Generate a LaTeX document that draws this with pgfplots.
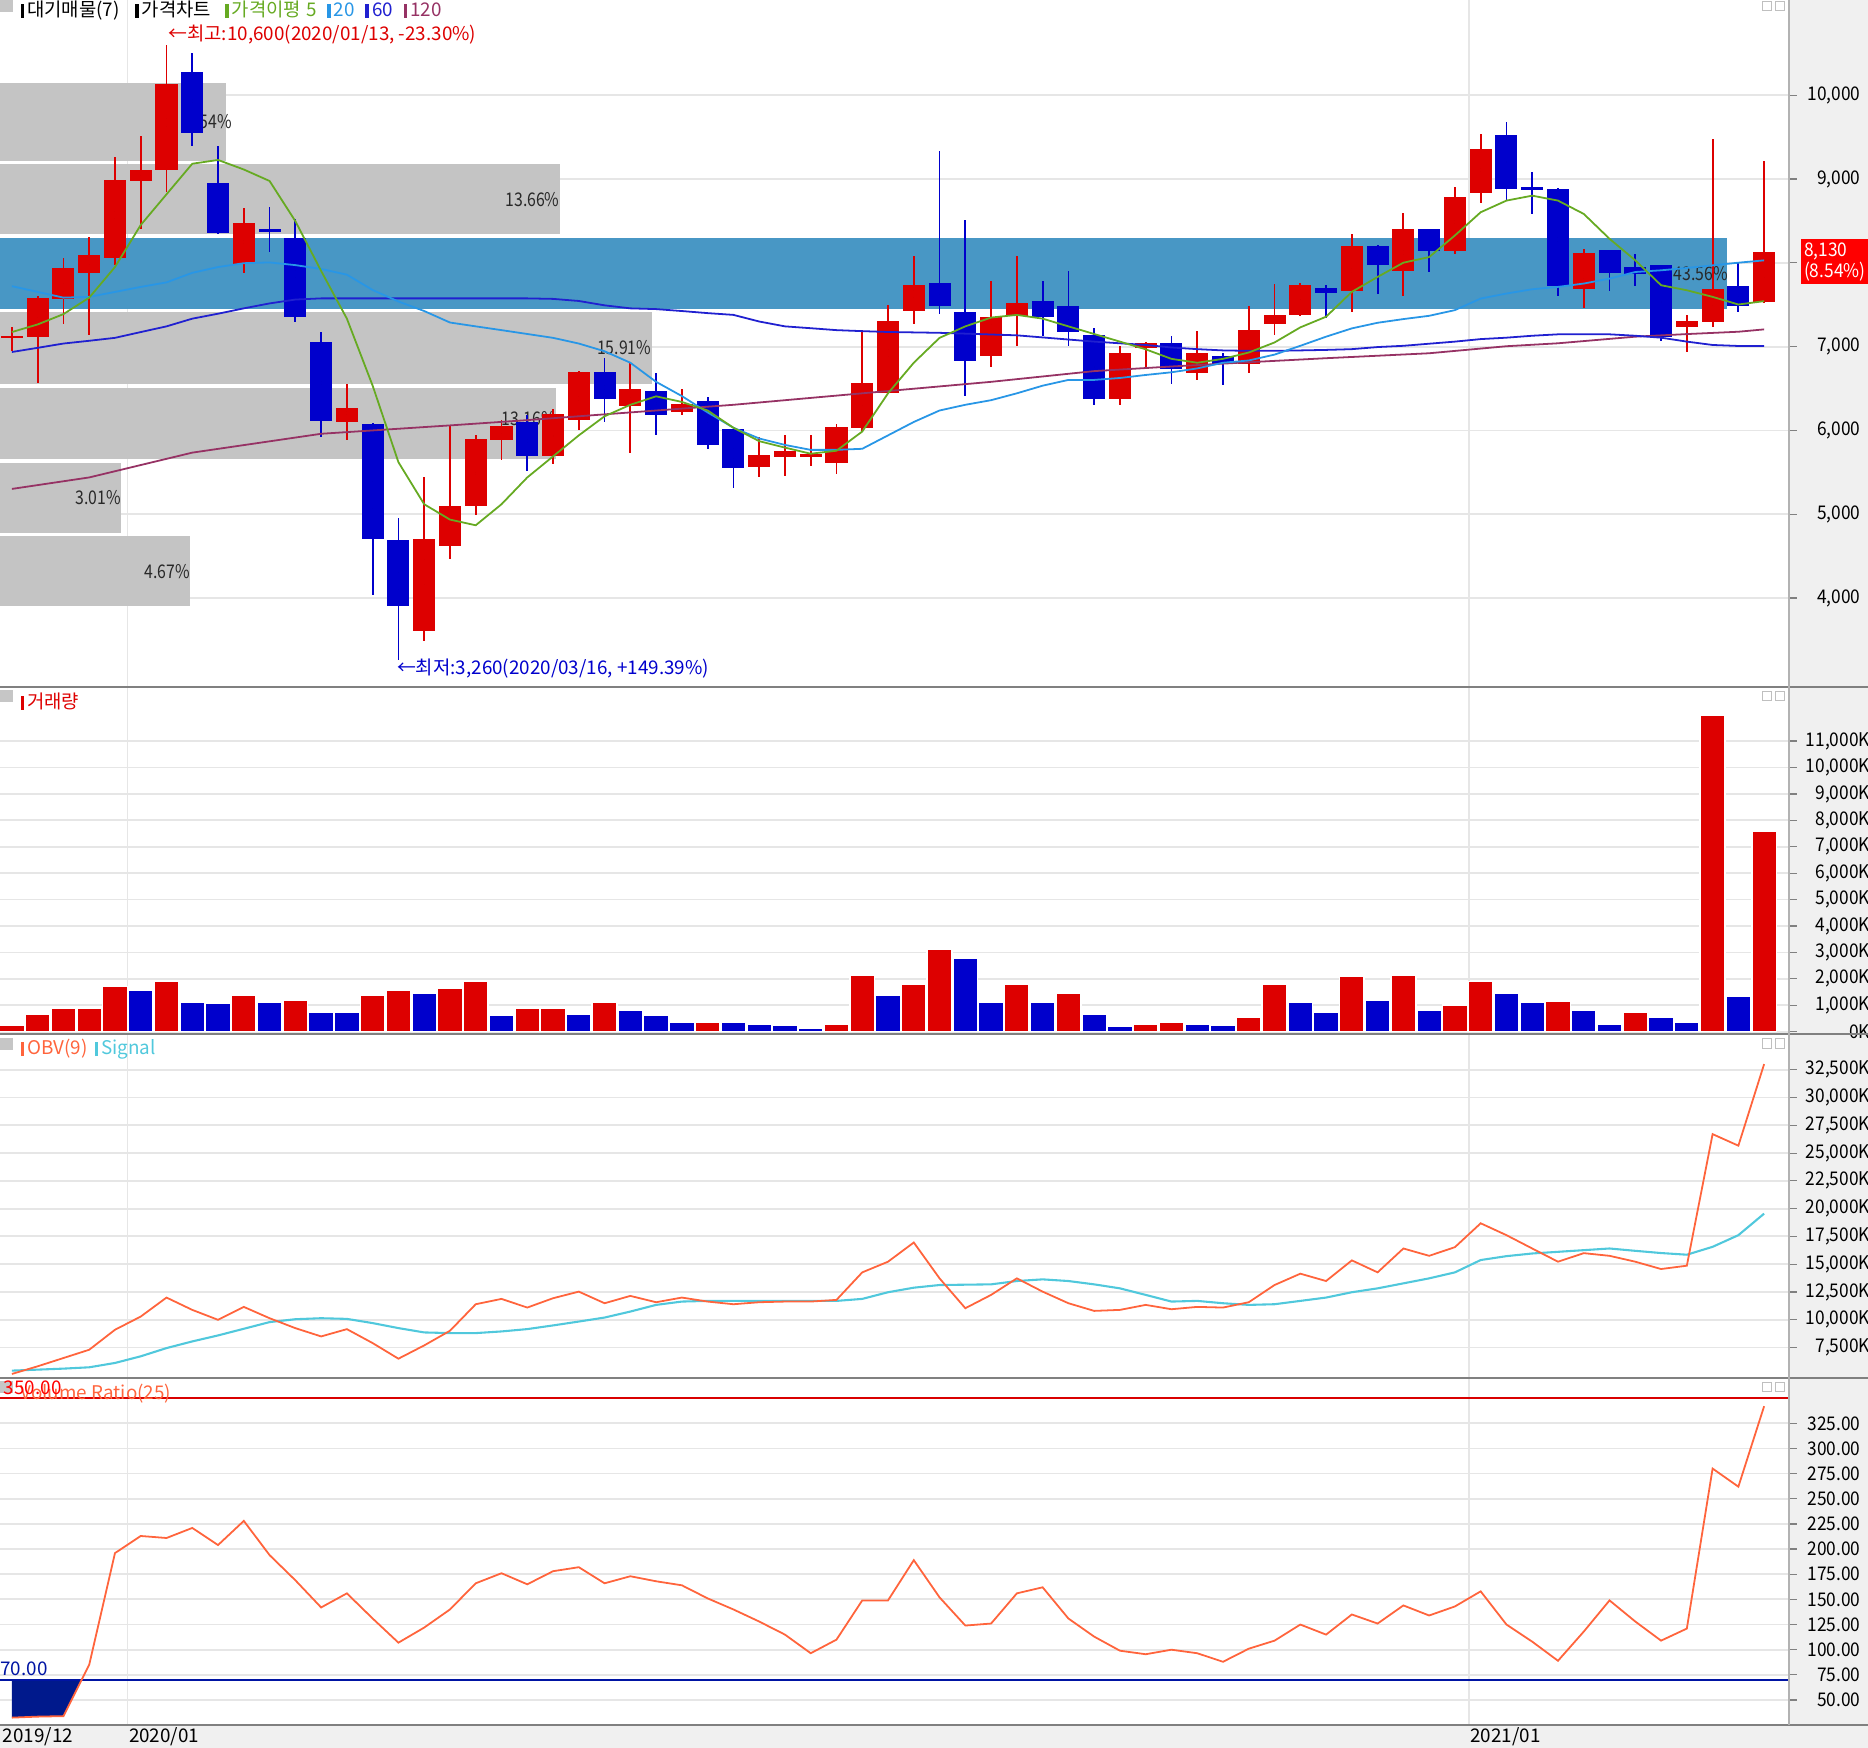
\documentclass[border=0pt]{standalone}
\usepackage{pgfplots}
\pgfplotsset{compat=1.18}
\usepackage{pgfplotstable}
\usepackage{fontspec}
\setmainfont{Noto Sans CJK KR}
\newfontfamily\cond[FakeStretch=0.84]{Noto Sans CJK KR}
\newfontfamily\tickf[FakeStretch=0.92]{Noto Sans CJK KR}

\definecolor{cred}{RGB}{221,0,0}
\definecolor{cblue}{RGB}{0,0,204}
\definecolor{boxgray}{RGB}{196,196,196}
\definecolor{band}{RGB}{72,151,197}
\definecolor{ma5}{RGB}{102,170,34}
\definecolor{ma20}{RGB}{40,150,230}
\definecolor{ma60}{RGB}{32,32,208}
\definecolor{ma120}{RGB}{150,50,100}
\definecolor{obv}{RGB}{255,100,60}
\definecolor{sig}{RGB}{80,200,220}
\definecolor{navy}{RGB}{0,25,140}
\definecolor{gridc}{RGB}{230,230,230}
\definecolor{strip}{RGB}{240,240,240}
\definecolor{sep}{RGB}{128,128,128}
\definecolor{lbl}{RGB}{40,40,40}

\newcommand\fsz{\fontsize{9pt}{10pt}\selectfont}
\newcommand\bx[1]{\textcolor{#1}{\rule[-0.2mm]{0.6mm}{2.4mm}}\hspace{0.5mm}}

% weekly candles (k = week from 2019/12/02), rising weeks
\pgfplotstableread{
k o h l c
0 7100 7240 6950 7130
1 7120 7600 6570 7580
2 7570 8060 7265 7940
3 7880 8310 7140 8090
4 8060 9260 7970 8990
5 8980 9510 8410 9110
6 9110 10600 8840 10140
9 7990 8650 7880 8480
13 6100 6560 5890 6270
16 3610 5440 3490 4710
17 4620 6050 4470 5100
18 5100 5950 4990 5900
19 5880 6120 5650 6050
21 5690 6250 5600 6200
22 6120 6710 6010 6700
24 6290 6820 5735 6490
26 6220 6500 6180 6320
29 5560 5920 5440 5710
30 5680 5940 5460 5750
31 5680 5950 5570 5720
32 5610 6080 5480 6040
33 6030 7200 5990 6570
34 6450 7500 6440 7310
35 7430 8080 7270 7740
38 6890 7780 6760 7350
39 7360 8080 7010 7520
43 6380 7010 6300 6930
44 6980 7060 6730 7040
46 6680 7190 6600 6930
48 6790 7480 6680 7200
49 7270 7750 7140 7380
50 7380 7760 7370 7740
52 7670 8350 7410 8200
54 7900 8600 7610 8400
56 8140 8900 8100 8790
57 8830 9540 8720 9360
61 7690 8170 7460 8120
65 7240 7380 6940 7310
66 7300 9480 7230 7690
68 7530 9210 7520 8130
}\candup

% falling weeks
\pgfplotstableread{
k o h l c
7 10280 10500 9390 9550
8 8950 9390 8350 8360
10 8400 8670 8130 8370
11 8300 8520 7300 7350
12 7050 7170 5920 6110
14 6080 6090 4040 4700
15 4690 4950 3260 3910
20 6100 6190 5520 5690
23 6700 6870 6100 6370
25 6470 6680 5940 6190
27 6350 6400 5780 5830
28 6020 6030 5310 5550
36 7760 9330 7390 7490
37 7410 8510 6410 6830
40 7540 7780 7130 7350
41 7480 7900 7010 7170
42 7140 7220 6300 6370
45 7040 7130 6560 6730
47 6890 6930 6540 6790
51 7700 7740 7340 7640
53 8200 8210 7630 7980
55 8400 8400 7890 8140
58 9520 9680 8740 8880
59 8910 9080 8580 8870
60 8880 8890 7610 7720
62 8150 8150 7670 7880
63 7950 8110 7720 7870
64 7970 7980 7070 7110
67 7720 8010 7410 7480
}\canddn

\pgfplotstableread{
k ma5 ma20 ma60
0 7174 7722 6936
1 7265 7653 6986
2 7388 7585 7037
3 7585 7594 7070
4 7950 7653 7105
5 8452 7713 7174
6 8818 7767 7242
7 9183 7881 7334
8 9228 7950 7393
9 9114 7996 7457
10 8977 8005 7516
11 8498 7973 7562
12 7904 7927 7576
13 7334 7859 7576
14 6534 7676 7576
15 5621 7539 7576
16 5119 7425 7576
17 4936 7288 7576
18 4868 7242 7576
19 5119 7197 7576
20 5439 7151 7576
21 5690 7105 7570
22 5941 7037 7545
23 6169 6945 7493
24 6306 6808 7457
25 6407 6580 7448
26 6340 6410 7425
27 6238 6215 7400
28 6032 6032 7379
29 5872 5904 7300
30 5795 5827 7242
31 5722 5768 7220
32 5758 5768 7197
33 5987 5781 7185
34 6443 5941 7175
35 6808 6101 7170
36 7105 6238 7165
37 7242 6306 7155
38 7347 6361 7145
39 7379 6443 7135
40 7334 6534 7110
41 7242 6603 7085
42 7151 6603 7060
43 7060 6626 7040
44 6968 6662 7020
45 6854 6694 6990
46 6808 6740 6970
47 6854 6808 6955
48 6930 6835 6950
49 7050 6905 6950
50 7230 7010 6955
51 7357 7119 6961
52 7654 7218 6970
53 7832 7285 6995
54 8002 7329 7010
55 8069 7368 7035
56 8327 7436 7060
57 8604 7574 7090
58 8743 7634 7107
59 8802 7685 7130
60 8743 7713 7147
61 8584 7753 7147
62 8287 7812 7147
63 8030 7891 7130
64 7733 7911 7107
65 7673 7939 7060
66 7594 7970 7020
67 7503 8002 7008
68 7543 8030 7008
}\ma

\pgfplotstableread{
k v
0 5302
3 5439
7 5735
12 5960
17 6060
20 6123
24 6215
28 6306
33 6443
38 6580
42 6708
45 6763
48 6814
51 6862
55 6921
58 7005
60 7040
63 7119
65 7150
67 7178
68 7206
}\mali

% weekly volume in thousands, red when above the previous week
\pgfplotstableread{
k v
0 244
1 645
2 889
3 900
4 1721
6 1907
9 1391
11 1190
14 1391
15 1577
17 1649
18 1907
20 889
21 900
23 1133
27 370
32 287
33 2151
35 1793
36 3112
39 1793
41 1448
44 287
45 359
48 531
49 1793
52 2094
54 2151
56 1004
57 1893
60 1150
63 746
66 11970
68 7592
}\volup

\pgfplotstableread{
k v
5 1577
7 1133
8 1076
10 1133
12 746
13 740
16 1463
19 617
22 674
24 803
25 617
26 359
28 359
29 287
30 229
31 143
34 1391
37 2796
38 1133
40 1133
42 674
43 215
46 287
47 244
50 1133
51 746
53 1190
55 803
58 1448
59 1133
61 803
62 287
64 545
65 359
67 1334
}\voldn

\pgfplotstableread{
k obv sig vr
0 5110 5410 32.5
1 5800 5500 33.5
2 6545 5590 34
3 7290 5710 85
4 9090 6100 196
5 10280 6700 213
6 11990 7440 211
7 10880 8040 221
8 9985 8580 204
9 11150 9180 228
10 10130 9780 194
11 9236 10040 169
12 8490 10130 142
13 9146 10070 156
14 7890 9690 131
15 6485 9240 107
16 7680 8850 122
17 9000 8790 140
18 11390 8790 166
19 11870 8940 176
20 11090 9150 165
21 11930 9480 178
22 12525 9830 182
23 11480 10190 166
24 12140 10730 173
25 11570 11330 168
26 11990 11630 164
27 11630 11690 151
28 11390 11690 140
29 11570 11690 128
30 11630 11690 115
31 11630 11690 96.5
32 11780 11690 110
33 14260 11870 149
34 15220 12470 149
35 16950 12880 189
36 13720 13120 152
37 11030 13150 124
38 12230 13180 126
39 13720 13480 156
40 12525 13630 162
41 11480 13480 131
42 10790 13180 113
43 10880 12820 99
44 11330 12230 95.5
45 10940 11630 100
46 11150 11690 96.5
47 11090 11480 88
48 11570 11330 101
49 13120 11390 109
50 14140 11690 125
51 13480 11990 115
52 15340 12470 135
53 14260 12820 126
54 16410 13270 144
55 15750 13720 134
56 16530 14260 143
57 18680 15370 158
58 17610 15720 125
59 16410 15960 108
60 15220 16110 89
61 15990 16260 118
62 15750 16410 149
63 15220 16200 128
64 14560 16000 109
65 14860 15850 121
66 26710 16560 280
67 25670 17610 262
68 33020 19550 342
}\ind

\pgfplotsset{
  panel/.style={
    scale only axis, width=300.4mm, anchor=north west,
    xmin=-0.462, xmax=68.98,
    axis line style={draw=none},
    xtick={4.485,56.54}, xticklabels={}, xmajorgrids, ymajorgrids,
    grid style={gridc, line width=0.3mm},
    ytick pos=right, yticklabel pos=right,
    tick align=outside, major tick length=1.2mm,
    xtick style={draw=none}, ytick style={draw=sep, line width=0.2mm},
    yticklabel style={font=\tickf\fsz, anchor=east, inner sep=0pt},
    /pgf/number format/assume math mode=true,
    /pgf/number format/.cd, fixed, precision=0, 1000 sep={,},
  },
  wick/.style={only marks, mark=*, mark size=0pt, mark options={draw=none, fill=none},
    error bars/.cd, y dir=both, y explicit,
    error mark=none, error bar style={draw=#1, line width=0.3mm}},
  body/.style={only marks, mark=*, mark size=0pt, mark options={draw=none, fill=none},
    error bars/.cd, y dir=both, y explicit,
    error mark=none, error bar style={draw=#1, line width=3.7mm}},
}

\begin{document}
\begin{tikzpicture}[font=\fsz]
\begin{scope}[x=0.2mm,y=-0.2mm]
  \fill[strip] (1502,0) rectangle (1568,1467);
  \fill[strip] (0,1448) rectangle (1568,1467);
\end{scope}

% price panel
\begin{axis}[panel, at={(0,0)}, height=115.4mm, ymin=2933, ymax=11137,
  ytick={4000,5000,...,10000}, scaled y ticks=false,
  yticklabel style={xshift=10.8mm}]
  \addplot[fill=boxgray, draw=none] coordinates {(-0.5,9220) (8.32,9220) (8.32,10142) (-0.5,10142)} -- cycle;
  \addplot[fill=boxgray, draw=none] coordinates {(-0.5,8340) (21.27,8340) (21.27,9177) (-0.5,9177)} -- cycle;
  \addplot[fill=band, draw=none] coordinates {(-0.5,7447) (66.57,7447) (66.57,8298) (-0.5,8298)} -- cycle;
  \addplot[fill=boxgray, draw=none] coordinates {(-0.5,6553) (24.83,6553) (24.83,7418) (-0.5,7418)} -- cycle;
  \addplot[fill=boxgray, draw=none] coordinates {(-0.5,5660) (21.13,5660) (21.13,6511) (-0.5,6511)} -- cycle;
  \addplot[fill=boxgray, draw=none] coordinates {(-0.5,4780) (4.25,4780) (4.25,5617) (-0.5,5617)} -- cycle;
  \addplot[fill=boxgray, draw=none] coordinates {(-0.5,3901) (6.93,3901) (6.93,4738) (-0.5,4738)} -- cycle;
  \begin{scope}[every node/.style={anchor=east, inner sep=0pt, text=lbl, font=\cond\fsz}]
  \node at (axis cs:8.55,9680) {5.54\%};
  \node at (axis cs:21.27,8760) {13.66\%};
  \node at (axis cs:66.6,7872) {43.56\%};
  \node at (axis cs:24.83,6985) {15.91\%};
  \node at (axis cs:21.13,6140) {13.16\%};
  \node at (axis cs:4.25,5200) {3.01\%};
  \node at (axis cs:6.93,4320) {4.67\%};
  \end{scope}
  % wicks and bodies
  \addplot[wick=cred] table[x=k, y expr={(\thisrow{h}+\thisrow{l})/2}, y error expr={(\thisrow{h}-\thisrow{l})/2}] {\candup};
  \addplot[wick=cblue] table[x=k, y expr={(\thisrow{h}+\thisrow{l})/2}, y error expr={(\thisrow{h}-\thisrow{l})/2}] {\canddn};
  \addplot[body=cred] table[x=k, y expr={(\thisrow{o}+\thisrow{c})/2}, y error expr={max(abs(\thisrow{c}-\thisrow{o})/2,14)}] {\candup};
  \addplot[body=cblue] table[x=k, y expr={(\thisrow{o}+\thisrow{c})/2}, y error expr={max(abs(\thisrow{c}-\thisrow{o})/2,14)}] {\canddn};
  % moving averages
  \addplot[ma120, line width=0.3mm, mark=none] table[x=k, y=v] {\mali};
  \addplot[ma60, line width=0.3mm, mark=none] table[x=k, y=ma60] {\ma};
  \addplot[ma20, line width=0.3mm, mark=none] table[x=k, y=ma20] {\ma};
  \addplot[ma5, line width=0.3mm, mark=none] table[x=k, y=ma5] {\ma};
\end{axis}

% volume panel
\begin{axis}[panel, at={(0,-115.4mm)}, height=58.2mm, ymin=-90, ymax=13030,
  ytick={0,1000,...,11000}, scaled y ticks=false,
  yticklabel={\pgfmathprintnumber{\tick}K},
  yticklabel style={xshift=12.4mm}]
  \addplot[ybar, bar width=0.96, bar shift=0pt, fill=cred, draw=white, line width=0.25mm] table[x=k, y=v] {\volup};
  \addplot[ybar, bar width=0.96, bar shift=0pt, fill=cblue, draw=white, line width=0.25mm] table[x=k, y=v] {\voldn};
\end{axis}

% OBV panel
\begin{axis}[panel, at={(0,-173.6mm)}, height=57.8mm, ymin=4710, ymax=35719,
  ytick={7500,10000,...,32500}, scaled y ticks=false,
  yticklabel={\pgfmathprintnumber{\tick}K},
  yticklabel style={xshift=12.4mm}]
  \addplot[sig, line width=0.35mm, mark=none] table[x=k, y=sig] {\ind};
  \addplot[obv, line width=0.3mm, mark=none] table[x=k, y=obv] {\ind};
\end{axis}

% volume ratio panel
\begin{axis}[panel, at={(0,-231.4mm)}, height=58.2mm, ymin=25.1, ymax=369.6,
  ytick={50,75,...,325}, scaled y ticks=false,
  yticklabel style={xshift=10.8mm, /pgf/number format/.cd, fixed, fixed zerofill, precision=2}]
  \addplot[fill=navy, draw=none] coordinates {(0,70) (0,32.5) (1,33.5) (2,34) (2.706,70)} -- cycle;
  \addplot[red!85!black, line width=0.4mm, mark=none] coordinates {(-0.5,350) (69,350)};
  \addplot[navy!80!blue, line width=0.4mm, mark=none] coordinates {(-0.5,70) (69,70)};
  \addplot[obv, line width=0.3mm, mark=none] table[x=k, y=vr] {\ind};
\end{axis}

\begin{scope}[x=0.2mm,y=-0.2mm]
  \foreach \yy in {577,868,1157,1448} \draw[sep, line width=0.35mm] (0,\yy) -- (1568,\yy);
  \draw[gray!60, line width=0.3mm] (1502,0) -- (1502,1448);
  \foreach \yy in {0,579,871,1159} {
    \fill[gray!45] (0,\yy) rectangle (11,\yy+10);
    \draw[gray!50, line width=0.15mm] (1479,\yy+1) rectangle (1487,\yy+9);
    \draw[gray!50, line width=0.15mm] (1490,\yy+1) rectangle (1498,\yy+9);
  }
  \node[anchor=west, inner sep=0pt] at (17,9) {\bx{black}대기매물(7)\hspace{2.6mm}\bx{black}가격차트\hspace{2.4mm}\bx{ma5}\textcolor{ma5}{가격이평\hspace{0.8mm}5}\hspace{1.8mm}\bx{ma20}\textcolor{ma20}{20}\hspace{1.8mm}\bx{ma60}\textcolor{ma60}{60}\hspace{1.8mm}\bx{ma120}\textcolor{ma120}{120}};
  \node[anchor=west, inner sep=0pt, text=cred] at (141,29) {←최고:10,600(2020/01/13, -23.30\%)};
  \node[anchor=west, inner sep=0pt, text=cblue] at (333,561) {←최저:3,260(2020/03/16, +149.39\%)};
  \fill[red] (1512,201) rectangle (1568,238);
  \node[anchor=west, inner sep=0pt, text=white, font=\tickf\fsz] at (1514,211) {8,130};
  \node[anchor=west, inner sep=0pt, text=white, font=\tickf\fsz] at (1514,228) {(8.54\%)};
  \node[anchor=west, inner sep=0pt] at (17,589) {\bx{cred}\textcolor{cred}{거래량}};
  \node[anchor=west, inner sep=0pt] at (17,881) {\bx{obv}\textcolor{obv}{OBV(9)}\hspace{1.2mm}\bx{sig}\textcolor{sig}{Signal}};
  \node[anchor=west, inner sep=0pt, text=obv] at (17,1170) {Volume Ratio(25)};
  \node[anchor=west, inner sep=0pt, text=red] at (3,1165) {350.00};
  \node[anchor=west, inner sep=0pt, text=navy!80!blue] at (0,1401) {70.00};
  \node[anchor=west, inner sep=0pt] at (2,1458) {2019/12};
  \node[anchor=west, inner sep=0pt] at (108,1458) {2020/01};
  \node[anchor=west, inner sep=0pt] at (1234,1458) {2021/01};
\end{scope}
\pgfresetboundingbox
\useasboundingbox (0,0) rectangle (313.6mm,-293.4mm);
\end{tikzpicture}
\end{document}
